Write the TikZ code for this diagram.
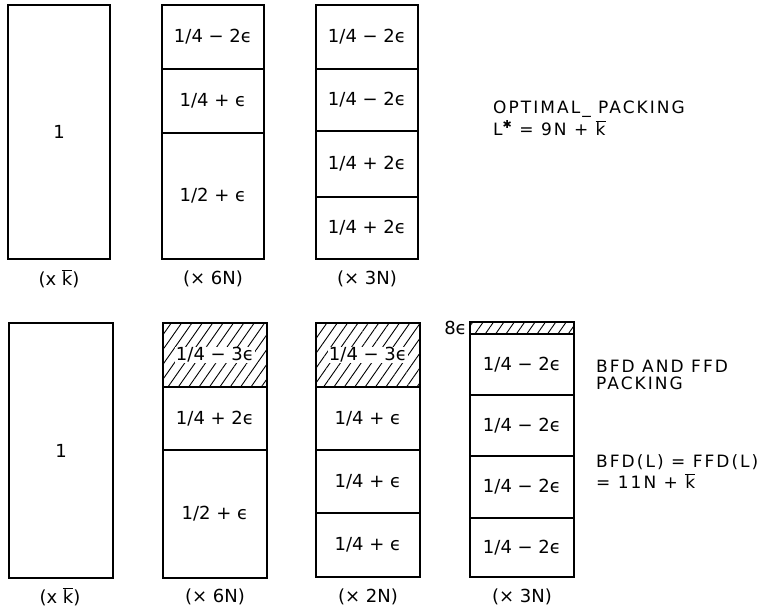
\documentclass[tikz,border=0pt]{standalone}
\usepackage{fontspec}
\setmainfont{DejaVu Sans}
\newfontfamily\sidefont[LetterSpace=12]{DejaVu Sans}
\usetikzlibrary{patterns.meta}
\newcommand\kb{$\overline{\mbox{k}}$}
\tikzset{
  cell/.style={draw, line width=1.5pt, inner sep=0pt, outer sep=0pt, anchor=north west,
    font=\fontsize{18}{21}\selectfont},
  topcell/.style={cell, minimum width=102pt},
  botcell/.style={cell, minimum width=104pt},
  hatch/.style={botcell, pattern={Lines[angle=55,distance=8.5pt,line width=0.9pt]}},
  lbl/.style={font=\fontsize{18}{21}\selectfont, inner sep=0pt},
  hlbl/.style={lbl, fill=white, inner sep=0.5pt},
  side/.style={font=\sidefont\fontsize{17}{20}\selectfont, inner sep=0pt, anchor=west},
}
\begin{document}
\begin{tikzpicture}[x=1pt,y=-1pt]
\useasboundingbox (0,0) rectangle (769,612);
% ---------- top row: optimal packing ----------
\node[topcell, minimum height=254pt] (t1) at (8,5) {1};
\node[topcell, minimum height=64pt] (t2a) at (162,5) {1/4 − 2ϵ};
\node[topcell, minimum height=64pt] (t2b) at (t2a.south west) {1/4 + ϵ};
\node[topcell, minimum height=126pt] (t2c) at (t2b.south west) {1/2 + ϵ};
\node[topcell, minimum height=64pt] (t3a) at (316,5) {1/4 − 2ϵ};
\node[topcell, minimum height=62pt] (t3b) at (t3a.south west) {1/4 − 2ϵ};
\node[topcell, minimum height=66pt] (t3c) at (t3b.south west) {1/4 + 2ϵ};
\node[topcell, minimum height=62pt] (t3d) at (t3c.south west) {1/4 + 2ϵ};
\node[lbl] (t1l) at (59,279) {(x \kb)};
\node[lbl] (t2l) at (213,279) {(× 6N)};
\node[lbl] (t3l) at (367,279) {(× 3N)};
\node[side] (opt1) at (493,109) {OPTIMAL\_ PACKING};
\node[side] (opt2) at (493,128) {L\raisebox{0.45em}{\fontsize{11}{11}\selectfont ✱} = 9N + \kb};
% ---------- bottom row: BFD / FFD packing ----------
\node[botcell, minimum height=255pt] (b1) at (9,323) {1};
\node[hatch, minimum height=64pt] (b2a) at (163,323) {};
\node[hlbl] (b2al) at (b2a) {1/4 − 3ϵ};
\node[botcell, minimum height=63pt] (b2b) at (b2a.south west) {1/4 + 2ϵ};
\node[botcell, minimum height=128pt] (b2c) at (b2b.south west) {1/2 + ϵ};
\node[hatch, minimum height=64pt] (b3a) at (316,323) {};
\node[hlbl] (b3al) at (b3a) {1/4 − 3ϵ};
\node[botcell, minimum height=63pt] (b3b) at (b3a.south west) {1/4 + ϵ};
\node[botcell, minimum height=63pt] (b3c) at (b3b.south west) {1/4 + ϵ};
\node[botcell, minimum height=64pt] (b3d) at (b3c.south west) {1/4 + ϵ};
\node[hatch, minimum height=12pt] (b4a) at (470,322) {};
\node[botcell, minimum height=61pt] (b4b) at (b4a.south west) {1/4 − 2ϵ};
\node[botcell, minimum height=61pt] (b4c) at (b4b.south west) {1/4 − 2ϵ};
\node[botcell, minimum height=62pt] (b4d) at (b4c.south west) {1/4 − 2ϵ};
\node[botcell, minimum height=59pt] (b4e) at (b4d.south west) {1/4 − 2ϵ};
\node[lbl, anchor=east] (eps8) at ([xshift=-3pt]b4a.west) {8ϵ};
\node[lbl] (b1l) at (60,597) {(x \kb)};
\node[lbl] (b2l) at (215,597) {(× 6N)};
\node[lbl] (b3l) at (368,597) {(× 2N)};
\node[lbl] (b4l) at (522,597) {(× 3N)};
\node[side] (bf1) at (596,366) {BFD AND FFD};
\node[side] (bf2) at (596,383) {PACKING};
\node[side] (bf3) at (596,462) {BFD(L) = FFD(L)};
\node[side] (bf4) at (596,481) {= 11N + \kb};
\end{tikzpicture}
\end{document}
